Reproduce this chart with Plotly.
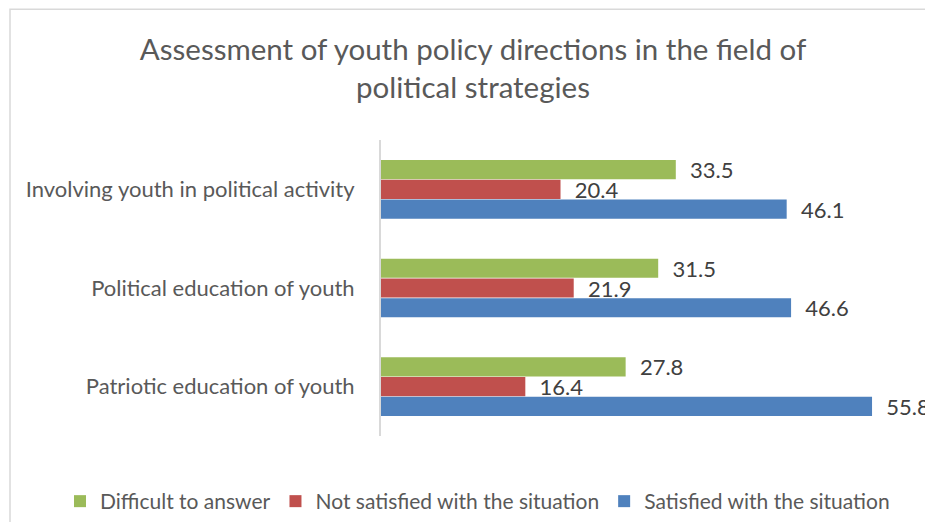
import plotly.graph_objects as go

categories = [
    "Involving youth in political activity",
    "Political education of youth",
    "Patriotic education of youth",
]
difficult = [33.5, 31.5, 27.8]
not_satisfied = [20.4, 21.9, 16.4]
satisfied = [46.1, 46.6, 55.8]

series = [
    ("Difficult to answer", difficult, "#9BBB59"),
    ("Not satisfied with the situation", not_satisfied, "#C0504D"),
    ("Satisfied with the situation", satisfied, "#4F81BD"),
]

FONT = "Lato, 'Open Sans', sans-serif"

fig = go.Figure()
for name, vals, color in series:
    fig.add_trace(go.Bar(
        y=categories,
        x=vals,
        name=name,
        orientation="h",
        marker=dict(color=color, line=dict(width=0)),
        text=[f"{v:.1f}" for v in vals],
        texttemplate="  %{text}",
        textposition="outside",
        constraintext="none",
        textfont=dict(family=FONT, size=22, color="#404040"),
        cliponaxis=False,
    ))

W, H = 925, 522
L, R, T, B = 381, 0, 140, 83
pw, ph = W - L - R, H - T - B

def px_to_paper_x(px):
    return (px - L) / pw

def px_to_paper_y(py):
    return (H - B - py) / ph

fig.update_layout(
    width=W,
    height=H,
    margin=dict(l=L, r=R, t=T, b=B),
    paper_bgcolor="white",
    plot_bgcolor="white",
    barmode="group",
    bargap=0.4,
    bargroupgap=0.03,
    title=dict(
        text="Assessment of youth policy directions in the field of<br>political strategies",
        font=dict(family=FONT, size=29.5, color="#595959"),
        x=473 / W,
        xanchor="center",
        xref="container",
        y=1 - 60 / H,
        yanchor="top",
        yref="container",
    ),
    xaxis=dict(
        range=[0, pw / 8.8],
        visible=False,
        showgrid=False,
        zeroline=False,
    ),
    yaxis=dict(
        autorange="reversed",
        showline=True,
        linecolor="#D9D9D9",
        linewidth=2,
        ticks="",
        ticklabelstandoff=20,
        tickfont=dict(family=FONT, size=22, color="#595959"),
        showgrid=False,
        zeroline=False,
    ),
    legend=dict(
        orientation="h",
        x=px_to_paper_x(60),
        xanchor="left",
        xref="paper",
        y=px_to_paper_y(485),
        yanchor="top",
        yref="paper",
        font=dict(family=FONT, size=21, color="#595959"),
        itemwidth=30,
        tracegroupgap=0,
    ),
    showlegend=True,
)

# chart frame
fig.add_shape(
    type="rect",
    xref="paper", yref="paper",
    x0=px_to_paper_x(10), x1=px_to_paper_x(W + 20),
    y0=px_to_paper_y(H + 20), y1=px_to_paper_y(8),
    line=dict(color="#D9D9D9", width=1.5),
    fillcolor="rgba(0,0,0,0)",
    layer="below",
)

fig.write_html("out.html")
